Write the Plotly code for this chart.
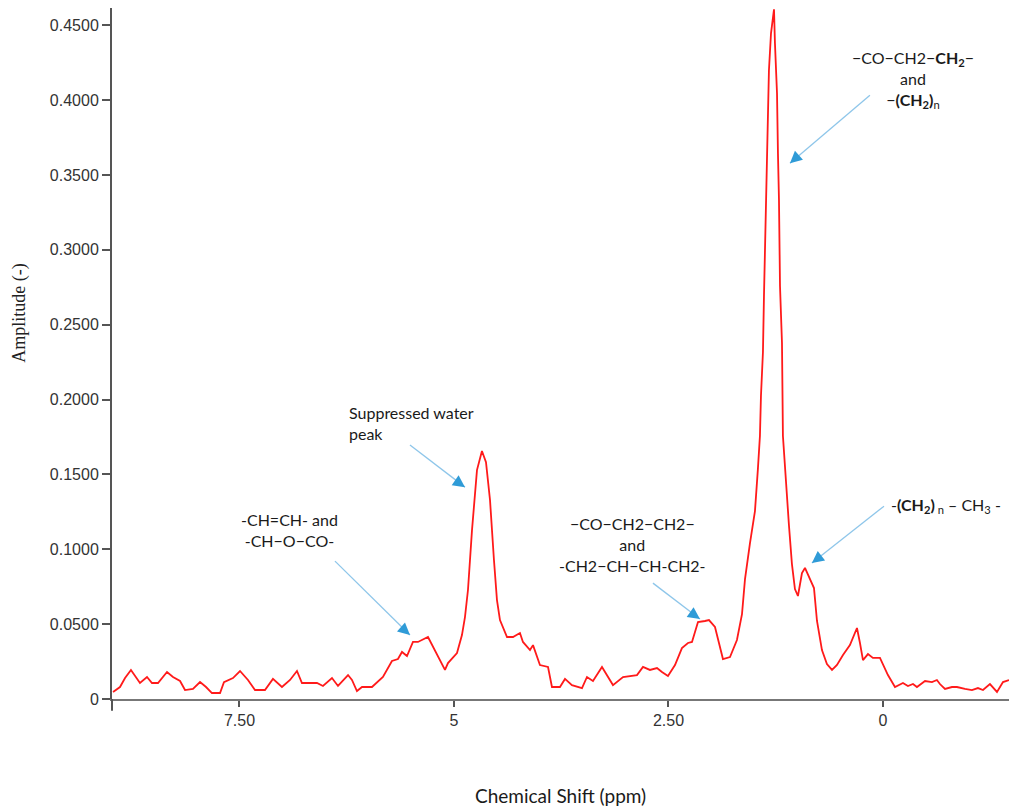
import plotly.graph_objects as go

# 1H NMR spectrum: chemical shift (ppm) and amplitude
shift_ppm = [
    8.974, 8.893, 8.834, 8.765, 8.660, 8.578, 8.520, 8.450, 8.345, 8.275,
    8.193, 8.135, 8.042, 7.960, 7.890, 7.821, 7.727, 7.681, 7.576, 7.494,
    7.401, 7.319, 7.203, 7.110, 7.005, 6.911, 6.830, 6.772, 6.597, 6.527,
    6.422, 6.352, 6.235, 6.189, 6.131, 6.072, 5.956, 5.828, 5.723, 5.653,
    5.606, 5.548, 5.478, 5.420, 5.303, 5.198, 5.105, 5.070, 4.965, 4.907,
    4.872, 4.837, 4.790, 4.732, 4.674, 4.627, 4.580, 4.534, 4.499, 4.464,
    4.382, 4.312, 4.231, 4.196, 4.114, 4.079, 3.998, 3.904, 3.858, 3.765,
    3.706, 3.625, 3.508, 3.450, 3.380, 3.275, 3.147, 3.030, 2.867, 2.797,
    2.716, 2.634, 2.576, 2.506, 2.424, 2.343, 2.273, 2.226, 2.156, 2.075,
    2.028, 1.958, 1.923, 1.865, 1.783, 1.702, 1.643, 1.608, 1.550, 1.492,
    1.457, 1.434, 1.422, 1.399, 1.387, 1.364, 1.352, 1.340, 1.329, 1.305,
    1.282, 1.270, 1.259, 1.235, 1.224, 1.212, 1.200, 1.177, 1.166, 1.119,
    1.096, 1.061, 1.026, 0.991, 0.944, 0.909, 0.851, 0.804, 0.769, 0.711,
    0.653, 0.594, 0.536, 0.466, 0.385, 0.303, 0.268, 0.233, 0.175, 0.117,
    0.035, 0.000, -0.058, -0.140, -0.233, -0.291, -0.350, -0.396, -0.490, -0.571,
    -0.629, -0.664, -0.723, -0.804, -0.862, -0.956, -1.037, -1.107, -1.166, -1.247,
    -1.329, -1.399, -1.469,
]
amplitude = [
    0.0047, 0.0080, 0.0140, 0.0194, 0.0107, 0.0147, 0.0107, 0.0107, 0.0180, 0.0147,
    0.0120, 0.0060, 0.0067, 0.0113, 0.0080, 0.0040, 0.0040, 0.0113, 0.0140, 0.0187,
    0.0127, 0.0060, 0.0060, 0.0134, 0.0080, 0.0127, 0.0187, 0.0107, 0.0107, 0.0087,
    0.0140, 0.0087, 0.0160, 0.0127, 0.0053, 0.0080, 0.0080, 0.0147, 0.0254, 0.0267,
    0.0314, 0.0287, 0.0381, 0.0381, 0.0414, 0.0294, 0.0194, 0.0240, 0.0307, 0.0427,
    0.0547, 0.0728, 0.1128, 0.1529, 0.1656, 0.1582, 0.1328, 0.0928, 0.0661, 0.0527,
    0.0414, 0.0414, 0.0441, 0.0381, 0.0327, 0.0360, 0.0227, 0.0214, 0.0080, 0.0080,
    0.0134, 0.0093, 0.0073, 0.0147, 0.0120, 0.0214, 0.0093, 0.0147, 0.0160, 0.0214,
    0.0194, 0.0207, 0.0180, 0.0154, 0.0227, 0.0340, 0.0374, 0.0381, 0.0514, 0.0521,
    0.0527, 0.0481, 0.0394, 0.0267, 0.0280, 0.0394, 0.0567, 0.0801, 0.1041, 0.1255,
    0.1542, 0.1756, 0.2023, 0.2316, 0.2690, 0.3238, 0.3471, 0.3865, 0.4199, 0.4446,
    0.4579, 0.4606, 0.4379, 0.4045, 0.3645, 0.3331, 0.2757, 0.2377, 0.1756, 0.1328,
    0.1162, 0.0901, 0.0734, 0.0688, 0.0841, 0.0875, 0.0801, 0.0741, 0.0521, 0.0327,
    0.0234, 0.0194, 0.0227, 0.0294, 0.0360, 0.0474, 0.0374, 0.0260, 0.0300, 0.0274,
    0.0274, 0.0227, 0.0160, 0.0080, 0.0107, 0.0087, 0.0100, 0.0080, 0.0120, 0.0113,
    0.0127, 0.0100, 0.0067, 0.0080, 0.0080, 0.0067, 0.0060, 0.0073, 0.0060, 0.0100,
    0.0047, 0.0113, 0.0127,
]

y_tick_vals = [0, 0.05, 0.10, 0.15, 0.20, 0.25, 0.30, 0.35, 0.40, 0.45]
y_tick_text = ["0", "0.0500", "0.1000", "0.1500", "0.2000", "0.2500",
               "0.3000", "0.3500", "0.4000", "0.4500"]
x_tick_vals = [7.5, 5, 2.5, 0]
x_tick_text = ["7.50", "5", "2.50", "0"]

# peak assignments: (label, x ppm, y amplitude, anchor, align)
labels = [
    ("\u2212CO\u2212CH2\u2212<b>CH<sub>2</sub></b>\u2212<br>and<br>\u2212<b>(CH<sub>2</sub>)</b><sub>n</sub>",
     -0.350, 0.4136, "center", "center"),
    ("-<b>(CH<sub>2</sub>)</b><sub> n</sub> \u2013 CH<sub>3</sub> -", -0.734, 0.1295, "center", "center"),
    ("\u2212CO\u2212CH2\u2212CH2\u2212<br>and<br>-CH2\u2212CH\u2212CH-CH2-", 2.925, 0.1035, "center", "center"),
    ("-CH=CH- and<br>-CH\u2212O\u2212CO-", 6.923, 0.1132, "center", "center"),
    ("Suppressed water<br>peak", 6.247, 0.1842, "left", "left"),
]

# pointer arrows: tip (ppm, amp), tail (ppm, amp), head direction offset in px
arrows = [
    (1.084, 0.3578, 0.152, 0.4032, 9, -8),
    (0.828, 0.0908, -0.012, 0.1288, 9, -7),
    (2.133, 0.0534, 2.681, 0.0774, -10, -7),
    (5.513, 0.0427, 6.387, 0.0921, -9, -8),
    (4.872, 0.1415, 5.513, 0.1696, -10, -7),
]

fig = go.Figure()
fig.add_trace(go.Scatter(
    x=shift_ppm, y=amplitude, mode="lines",
    line=dict(color="#ff1a1a", width=1.8),
    hoverinfo="skip", showlegend=False,
))

shapes = []
annotations = []
for tip_x, tip_y, tail_x, tail_y, hx, hy in arrows:
    shapes.append(dict(type="line", xref="x", yref="y",
                       x0=tail_x, y0=tail_y, x1=tip_x, y1=tip_y,
                       line=dict(color="#8ec6ea", width=1.3)))
    annotations.append(dict(x=tip_x, y=tip_y, xref="x", yref="y", text="",
                            showarrow=True, ax=hx, ay=hy,
                            arrowhead=2, arrowsize=1.6, arrowwidth=1.5,
                            arrowcolor="#2f9bd7", standoff=0))

for text, lx, ly, anchor, align in labels:
    annotations.append(dict(x=lx, y=ly, xref="x", yref="y", text=text,
                            showarrow=False, xanchor=anchor, yanchor="middle",
                            align=align,
                            font=dict(family="Lato", size=16, color="#1a1a1a")))

# axis titles
annotations.append(dict(x=-0.1026, y=0.559, xref="paper", yref="paper",
                        text="Amplitude (-)", textangle=-90, showarrow=False,
                        xanchor="center", yanchor="middle",
                        font=dict(family="Liberation Serif", size=18, color="#222222")))
annotations.append(dict(x=0.5, y=-0.139, xref="paper", yref="paper",
                        text="Chemical Shift (ppm)", showarrow=False,
                        xanchor="center", yanchor="middle",
                        font=dict(family="Lato", size=19, color="#1a1a1a")))

# y-axis line continues a little below the x-axis
shapes.append(dict(type="line", xref="paper", yref="paper",
                   x0=0, x1=0, y0=0, y1=-0.017,
                   line=dict(color="#555555", width=2)))

fig.update_layout(
    width=1009, height=807,
    margin=dict(l=112, r=0, t=8, b=108),
    paper_bgcolor="white", plot_bgcolor="white",
    shapes=shapes, annotations=annotations,
    xaxis=dict(range=[8.986, -1.469], tickvals=x_tick_vals, ticktext=x_tick_text,
               showgrid=False, zeroline=False, showline=True,
               linecolor="#777777", linewidth=2,
               ticks="outside", ticklen=6, tickwidth=1.5, tickcolor="#555555",
               tickfont=dict(family="Liberation Sans", size=16, color="#333333")),
    yaxis=dict(range=[0, 0.4615], tickvals=y_tick_vals, ticktext=y_tick_text,
               showgrid=False, zeroline=False, showline=True,
               linecolor="#555555", linewidth=2,
               ticks="outside", ticklen=8, tickwidth=1.5, tickcolor="#555555",
               tickfont=dict(family="Liberation Sans", size=16, color="#333333")),
)

fig.write_html("out.html")
